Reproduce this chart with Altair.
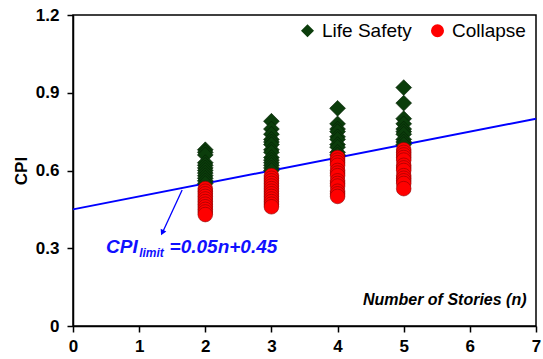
import altair as alt
import pandas as pd

# Number of stories for each group of results
stories = [2, 3, 4, 5]

# CPI values at the Life Safety performance level, per number of stories
life_safety = [
    [0.68, 0.67, 0.66, 0.63, 0.62, 0.61, 0.60, 0.59, 0.58, 0.57, 0.56, 0.55],
    [0.79, 0.76, 0.74, 0.72, 0.71, 0.70, 0.68, 0.67, 0.65, 0.64, 0.63, 0.62, 0.61, 0.60],
    [0.84, 0.78, 0.76, 0.75, 0.73, 0.72, 0.70, 0.69, 0.67, 0.66],
    [0.92, 0.86, 0.80, 0.78, 0.76, 0.75, 0.74, 0.72, 0.71, 0.70],
]

# CPI values at the Collapse performance level, per number of stories
collapse = [
    [0.53, 0.52, 0.51, 0.50, 0.49, 0.48, 0.47, 0.46, 0.45, 0.44, 0.43],
    [0.58, 0.57, 0.56, 0.55, 0.54, 0.53, 0.52, 0.51, 0.50, 0.49, 0.48, 0.47, 0.46],
    [0.65, 0.64, 0.63, 0.62, 0.60, 0.59, 0.58, 0.56, 0.55, 0.54, 0.52, 0.51, 0.50],
    [0.68, 0.67, 0.66, 0.65, 0.64, 0.62, 0.61, 0.60, 0.58, 0.57, 0.56, 0.55, 0.53],
]

# CPI limit line: CPI = slope * n + intercept
limit_slope = 0.05
limit_intercept = 0.45
limit_n = [0, 7]

x_ticks = [0, 1, 2, 3, 4, 5, 6, 7]
y_ticks = [0, 0.3, 0.6, 0.9, 1.2]

W, H = 463, 311
FONT = "Liberation Sans"

rows = []
for n, vals in zip(stories, life_safety):
    rows += [{"n": n, "cpi": v, "level": "Life Safety"} for v in vals]
for n, vals in zip(stories, collapse):
    rows += [{"n": n, "cpi": v, "level": "Collapse"} for v in vals]
points = pd.DataFrame(rows)

limit_df = pd.DataFrame(
    {"n": limit_n, "cpi": [limit_slope * n + limit_intercept for n in limit_n]}
)

x_scale = alt.Scale(domain=[0, 7], nice=False)
y_scale = alt.Scale(domain=[0, 1.2], nice=False)

x_axis = alt.Axis(
    values=x_ticks, format="d", grid=False, title="Number of Stories (n)",
    labelFontSize=17, labelFontWeight="bold", labelColor="black", labelPadding=6,
    tickSize=6, tickColor="black", domainColor="black", labelFlush=False,
    titleFontSize=16, titleFontWeight="bold", titleFontStyle="italic",
    titleAnchor="end", titleAlign="right", titleBaseline="alphabetic",
    titleX=W - 10, titleY=-22, titleColor="black",
)
y_axis = alt.Axis(
    values=y_ticks, grid=False, title="CPI",
    labelExpr="datum.value == 0 ? '0' : format(datum.value, '.1f')",
    labelFontSize=17, labelFontWeight="bold", labelColor="black", labelPadding=8,
    tickSize=6, tickColor="black", domainColor="black", labelFlush=False,
    titleFontSize=17, titleFontWeight="bold", titleColor="black",
    titleAngle=270, titleAlign="center", titleBaseline="middle",
    titleX=-52, titleY=H / 2,
)

x = alt.X("n:Q", scale=x_scale, axis=x_axis)
y = alt.Y("cpi:Q", scale=y_scale, axis=y_axis)

levels = ["Life Safety", "Collapse"]
fill_scale = alt.Scale(domain=levels, range=["#0b3d0b", "#ff0000"])
shape_scale = alt.Scale(domain=levels, range=["diamond", "circle"])
legend = alt.Legend(
    title=None, orient="none", legendX=225, legendY=6, direction="horizontal",
    labelFontSize=19, labelColor="black", symbolSize=170, columnPadding=16,
    labelOffset=5, symbolStrokeWidth=0,
)

limit_line = alt.Chart(limit_df).mark_line(color="#0000ff", strokeWidth=2).encode(
    x=x, y=y
)

ls_points = alt.Chart(points).transform_filter(
    alt.datum.level == "Life Safety"
).mark_point(filled=True, size=250, stroke="#052005", strokeWidth=0.6, opacity=1).encode(
    x=x, y=y,
    color=alt.Color("level:N", scale=fill_scale, legend=legend, sort=levels),
    shape=alt.Shape("level:N", scale=shape_scale, legend=legend, sort=levels),
)

col_points = alt.Chart(points).transform_filter(
    alt.datum.level == "Collapse"
).mark_point(filled=True, size=215, stroke="#8a0000", strokeWidth=0.6, opacity=1).encode(
    x=x, y=y,
    color=alt.Color("level:N", scale=fill_scale, legend=legend, sort=levels),
    shape=alt.Shape("level:N", scale=shape_scale, legend=legend, sort=levels),
)

# Annotation: equation of the limit line with an arrow pointing to it
arrow_df = pd.DataFrame({"n": [1.65, 1.36], "cpi": [0.525, 0.365]})
arrow = alt.Chart(arrow_df).mark_line(color="#0000ff", strokeWidth=1.3).encode(
    x=alt.X("n:Q", scale=x_scale), y=alt.Y("cpi:Q", scale=y_scale)
)
head = alt.Chart(pd.DataFrame({"n": [1.35], "cpi": [0.36]})).mark_point(
    shape="triangle-up", filled=True, color="#0000ff", size=40, angle=206, opacity=1
).encode(x=alt.X("n:Q", scale=x_scale), y=alt.Y("cpi:Q", scale=y_scale))

eq_df = pd.DataFrame({
    "n": [0.50, 1.00, 1.46],
    "cpi": [0.283, 0.268, 0.283],
    "txt": ["CPI", "limit", "=0.05n+0.45"],
    "fs": [19, 12, 19],
})
equation = alt.Chart(eq_df).mark_text(
    color="#1010ff", fontWeight="bold", fontStyle="italic", align="left",
    baseline="alphabetic", font=FONT,
).encode(
    x=alt.X("n:Q", scale=x_scale), y=alt.Y("cpi:Q", scale=y_scale),
    text="txt:N", size=alt.Size("fs:Q", scale=None, legend=None),
)

chart = alt.layer(limit_line, arrow, head, ls_points, col_points, equation).properties(
    width=W, height=H,
    autosize=alt.AutoSizeParams(type="none"),
    padding={"left": 73, "top": 15, "right": 7, "bottom": 33},
).configure(font=FONT).configure_view(
    stroke="black", strokeWidth=1.5
).configure_axis(domainWidth=1.5, tickWidth=1.5).configure_legend(labelFont=FONT)

chart.save("out.html", embed_options={"renderer": "svg", "actions": False})
